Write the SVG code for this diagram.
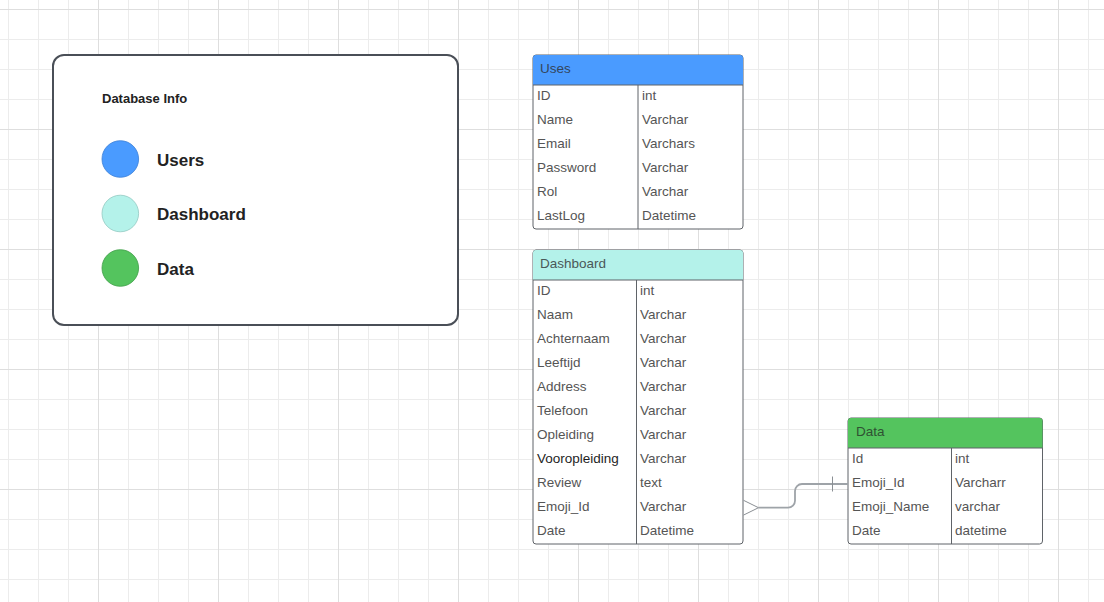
<svg xmlns="http://www.w3.org/2000/svg" width="1104" height="602" viewBox="0 0 1104 602">
<defs>
<pattern id="minor" patternUnits="userSpaceOnUse" x="8" y="9" width="30" height="30">
<path d="M0 0.5H30M0.5 0V30" stroke="#ececec" stroke-width="1" fill="none"/>
</pattern>
<pattern id="major" patternUnits="userSpaceOnUse" x="98" y="9" width="120" height="120">
<path d="M0 0.5H120M0.5 0V120" stroke="#dedede" stroke-width="1" fill="none"/>
</pattern>
<style>
.f{font-family:"Liberation Sans",Arial,sans-serif;font-size:13.5px;fill:#555}
.h{font-family:"Liberation Sans",Arial,sans-serif;font-size:13.5px}
.tb{fill:#fff;stroke:#5f6368;stroke-width:1}
.div{stroke:#5f6368;stroke-width:1}
.lg{font-family:"Liberation Sans",Arial,sans-serif;font-weight:bold;fill:#222}
.conn{fill:none;stroke:#9ea3a8;stroke-width:1.8}
.thin{fill:none;stroke:#8a8f94;stroke-width:1}
</style>
</defs>
<rect width="1104" height="602" fill="#fff"/>
<rect width="1104" height="602" fill="url(#minor)"/>
<rect width="1104" height="602" fill="url(#major)"/>

<g id="legend">
<rect x="53" y="55" width="405" height="270" rx="11" fill="#fff" stroke="#4a4f57" stroke-width="2"/>
<text x="102" y="103" class="lg" font-size="13">Database Info</text>
<circle cx="120.3" cy="159" r="18.3" fill="#4a9bff" stroke="#3b7fd6" stroke-width="0.8"/>
<text x="157" y="166" class="lg" font-size="17">Users</text>
<circle cx="120.3" cy="213.5" r="18.3" fill="#b4f2ea" stroke="#93c9c1" stroke-width="0.8"/>
<text x="157" y="220" class="lg" font-size="17">Dashboard</text>
<circle cx="120.3" cy="268" r="18.3" fill="#54c45e" stroke="#3f9e48" stroke-width="0.8"/>
<text x="157" y="274.5" class="lg" font-size="17">Data</text>
</g>

<g id="uses">
<rect x="533" y="55" width="210" height="174" rx="3" class="tb"/>
<path d="M533 85V58a3 3 0 0 1 3-3H740a3 3 0 0 1 3 3V85Z" fill="#4a9bff"/>
<path d="M533 85H743" class="div"/>
<path d="M638 85V229" class="div"/>
<text x="540" y="73" class="h" fill="#34465c">Uses</text>
<text x="537" y="100" class="f">ID</text><text x="642" y="100" class="f">int</text>
<text x="537" y="124" class="f">Name</text><text x="642" y="124" class="f">Varchar</text>
<text x="537" y="148" class="f">Email</text><text x="642" y="148" class="f">Varchars</text>
<text x="537" y="172" class="f">Password</text><text x="642" y="172" class="f">Varchar</text>
<text x="537" y="196" class="f">Rol</text><text x="642" y="196" class="f">Varchar</text>
<text x="537" y="220" class="f">LastLog</text><text x="642" y="220" class="f">Datetime</text>
</g>

<g id="dashboard">
<rect x="533" y="250" width="210" height="294" rx="3" class="tb"/>
<path d="M533 280V253a3 3 0 0 1 3-3H740a3 3 0 0 1 3 3V280Z" fill="#b4f2ea"/>
<path d="M533 280H743" class="div"/>
<path d="M636.5 280V544" class="div"/>
<text x="540" y="268" class="h" fill="#4a5858">Dashboard</text>
<text x="537" y="295" class="f">ID</text><text x="640" y="295" class="f">int</text>
<text x="537" y="319" class="f">Naam</text><text x="640" y="319" class="f">Varchar</text>
<text x="537" y="343" class="f">Achternaam</text><text x="640" y="343" class="f">Varchar</text>
<text x="537" y="367" class="f">Leeftijd</text><text x="640" y="367" class="f">Varchar</text>
<text x="537" y="391" class="f">Address</text><text x="640" y="391" class="f">Varchar</text>
<text x="537" y="415" class="f">Telefoon</text><text x="640" y="415" class="f">Varchar</text>
<text x="537" y="439" class="f">Opleiding</text><text x="640" y="439" class="f">Varchar</text>
<text x="537" y="463" class="f" style="fill:#1e1e1e">Vooropleiding</text><text x="640" y="463" class="f">Varchar</text>
<text x="537" y="487" class="f">Review</text><text x="640" y="487" class="f">text</text>
<text x="537" y="511" class="f">Emoji_Id</text><text x="640" y="511" class="f">Varchar</text>
<text x="537" y="535" class="f">Date</text><text x="640" y="535" class="f">Datetime</text>
</g>

<g id="data">
<rect x="848" y="418" width="194.5" height="126" rx="3" class="tb"/>
<path d="M848 448V421a3 3 0 0 1 3-3H1039.5a3 3 0 0 1 3 3V448Z" fill="#54c45e"/>
<path d="M848 448H1042.5" class="div"/>
<path d="M951.5 448V544" class="div"/>
<text x="856" y="436" class="h" fill="#2f5233">Data</text>
<text x="852" y="463" class="f">Id</text><text x="955" y="463" class="f">int</text>
<text x="852" y="487" class="f">Emoji_Id</text><text x="955" y="487" class="f">Varcharr</text>
<text x="852" y="511" class="f">Emoji_Name</text><text x="955" y="511" class="f">varchar</text>
<text x="852" y="535" class="f">Date</text><text x="955" y="535" class="f">datetime</text>
</g>

<g id="connectors">
<path d="M758.5 507.7H788a7 7 0 0 0 7-7V491a7 7 0 0 1 7-7H848" class="conn"/>
<path d="M743.5 500.3L758.5 507.7L743.5 515.1" class="thin"/>
<path d="M832.5 476.5V491.5" class="thin"/>
</g>
</svg>
